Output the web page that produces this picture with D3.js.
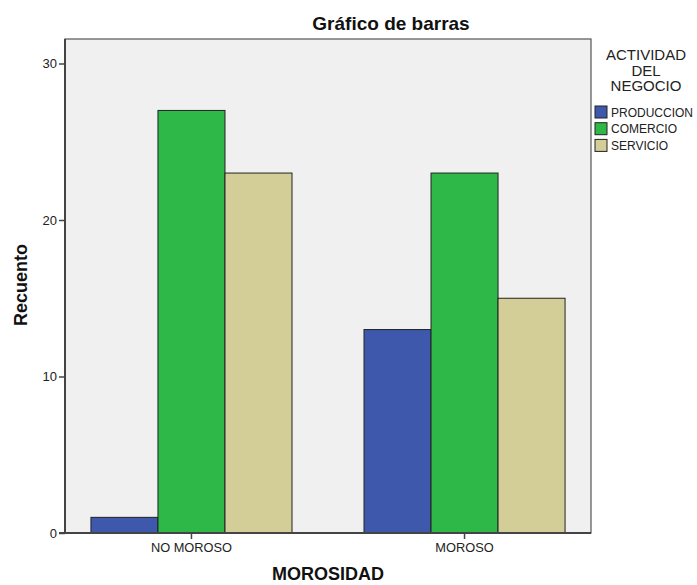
<!DOCTYPE html>
<html><head><meta charset="utf-8">
<script src="https://cdn.jsdelivr.net/npm/d3@7"></script>
<style>body{margin:0;background:#fff}svg{display:block}text{font-family:"Liberation Sans",Arial,sans-serif}</style>
</head><body>
<script>
const categories = ["NO MOROSO", "MOROSO"];
const seriesNames = ["PRODUCCION", "COMERCIO", "SERVICIO"];
const produccion = [1, 13];
const comercio = [27, 23];
const servicio = [23, 15];
const yTicks = [0, 10, 20, 30];
const colors = ["#3e58ac", "#2eb848", "#d3ce97"];

const seriesValues = [produccion, comercio, servicio];
const W = 697, H = 585;
const L = 65, R = 591, T = 39, B = 533;

const svg = d3.select("body").append("svg").attr("width", W).attr("height", H);

const x0 = d3.scaleBand().domain(categories).range([L, R]).paddingInner(0.2637).paddingOuter(0.095);
const x1 = d3.scaleBand().domain(seriesNames).range([0, x0.bandwidth()]).padding(0);
const y = d3.scaleLinear().domain([0, 10 * (B - T) / 156.5]).range([B, T]);

svg.append("rect").attr("x", L).attr("y", T).attr("width", R - L).attr("height", B - T)
  .attr("fill", "#f0f0f0").attr("stroke", "#555").attr("stroke-width", 1.2);

const groups = svg.append("g").selectAll("g").data(categories).join("g")
  .attr("transform", d => `translate(${x0(d)},0)`);
groups.selectAll("rect").data((c, i) => seriesNames.map((s, j) => ({s, v: seriesValues[j][i], j})))
  .join("rect")
  .attr("x", d => x1(d.s)).attr("width", x1.bandwidth())
  .attr("y", d => y(d.v)).attr("height", d => y(0) - y(d.v))
  .attr("fill", d => colors[d.j]).attr("stroke", "#222").attr("stroke-width", 1);

// Y axis
const yAxis = svg.append("g").attr("transform", `translate(${L},0)`)
  .call(d3.axisLeft(y).tickValues(yTicks).tickSize(6).tickPadding(2).tickFormat(d3.format("d")));
yAxis.select(".domain").attr("stroke", "#444").attr("stroke-width", 2).attr("d", `M0,${T}V${B}`);
yAxis.selectAll(".tick line").attr("stroke", "#444").attr("stroke-width", 1.5);
yAxis.selectAll("text").attr("font-size", 13).attr("fill", "#222");

// X axis
const xAxis = svg.append("g").attr("transform", `translate(0,${B})`)
  .call(d3.axisBottom(x0).tickSize(6).tickPadding(4));
xAxis.select(".domain").attr("stroke", "#444").attr("stroke-width", 2).attr("d", `M${L - 6},0H${R}`);
xAxis.selectAll(".tick line").attr("stroke", "#444").attr("stroke-width", 1.5);
xAxis.selectAll("text").attr("font-size", 12.8).attr("fill", "#222");

// Titles
svg.append("text").attr("x", 391).attr("y", 30).attr("text-anchor", "middle")
  .attr("font-size", 19).attr("font-weight", "bold").attr("fill", "#111").text("Gráfico de barras");
svg.append("text").attr("x", 328).attr("y", 580).attr("text-anchor", "middle")
  .attr("font-size", 18).attr("font-weight", "bold").attr("fill", "#111").text("MOROSIDAD");
svg.append("text").attr("transform", "translate(27,285) rotate(-90)").attr("text-anchor", "middle")
  .attr("font-size", 18).attr("font-weight", "bold").attr("fill", "#111").text("Recuento");

// Legend
const legTitle = ["ACTIVIDAD", "DEL", "NEGOCIO"];
svg.append("g").selectAll("text").data(legTitle).join("text")
  .attr("x", 646).attr("y", (d, i) => 60 + i * 15.5).attr("text-anchor", "middle")
  .attr("font-size", 15).attr("fill", "#222").text(d => d);
const leg = svg.append("g").selectAll("g").data(seriesNames).join("g")
  .attr("transform", (d, i) => `translate(595,${106 + i * 16.7})`);
leg.append("rect").attr("width", 12).attr("height", 12)
  .attr("fill", (d, i) => colors[i]).attr("stroke", "#222").attr("stroke-width", 1);
leg.append("text").attr("x", 16).attr("y", 10.5).attr("font-size", 12).attr("fill", "#222").text(d => d);
</script>
</body></html>
